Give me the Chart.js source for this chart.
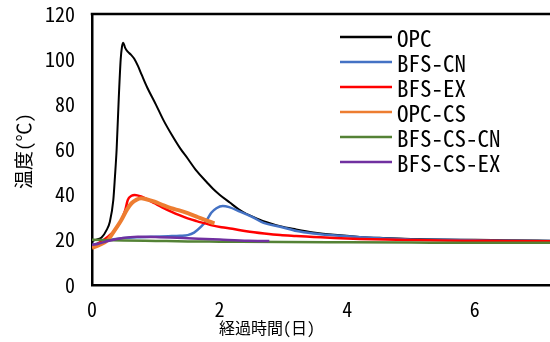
<!DOCTYPE html>
<html>
<head>
<meta charset="utf-8">
<script src="https://cdn.jsdelivr.net/npm/chart.js@4"></script>
<style>
html, body { margin: 0; padding: 0; background: #fff; }
</style>
</head>
<body>
<canvas id="chart" width="550" height="342"></canvas>
<script>
// series names and colours
var seriesNames = ['OPC', 'BFS-CN', 'BFS-EX', 'OPC-CS', 'BFS-CS-CN', 'BFS-CS-EX'];
var seriesColors = ['#000000', '#4472C4', '#FF0000', '#ED7D31', '#548235', '#7030A0'];
var seriesWidths = [2, 2.5, 2.5, 4, 2.5, 2.5];

// OPC
var opcDays = [0, 0.08, 0.15, 0.23, 0.28, 0.334, 0.36, 0.386, 0.42, 0.45, 0.47, 0.49, 0.52, 0.56, 0.61, 0.66, 0.72, 0.78, 0.86, 1.0, 1.12, 1.25, 1.38, 1.5, 1.64, 1.8, 1.9, 2.0, 2.16, 2.3, 2.42, 2.6, 2.74, 2.95, 3.2, 3.47, 3.8, 4.2, 4.6, 5.0, 5.5, 6.0, 6.5, 7.2];
var opcTemp = [19.5, 20.2, 21, 24.4, 28, 37.6, 48, 60, 83, 100, 105.5, 107.3, 105, 103.3, 102, 100.3, 97, 93, 87.8, 80, 73, 66.5, 60.6, 56, 50.5, 45.5, 42.5, 40, 36.5, 33.5, 31.5, 29.3, 27.8, 26, 24.6, 23.3, 22.2, 21.3, 20.8, 20.4, 20.1, 20, 19.8, 19.6];

// BFS-CN
var bfsCnDays = [0, 0.1, 0.25, 0.46, 0.7, 0.98, 1.2, 1.38, 1.5, 1.6, 1.71, 1.8, 1.87, 1.95, 2.05, 2.15, 2.32, 2.5, 2.69, 2.95, 3.21, 3.47, 3.73, 4.2, 4.6, 5.0, 5.5, 6.0, 6.5, 7.2];
var bfsCnTemp = [17.7, 18.5, 19.8, 20.7, 21.1, 21.4, 21.6, 21.8, 22.1, 23.2, 25.8, 28.8, 32, 34, 35, 34.5, 32.5, 30.3, 27.5, 25.8, 23.9, 22.8, 22.1, 21.2, 20.6, 20.2, 20, 19.8, 19.6, 19.5];

// BFS-EX
var bfsExDays = [0, 0.1, 0.25, 0.35, 0.46, 0.52, 0.56, 0.62, 0.67, 0.77, 0.88, 0.98, 1.1, 1.24, 1.38, 1.5, 1.64, 1.77, 1.9, 2.03, 2.2, 2.42, 2.7, 2.95, 3.2, 3.47, 3.8, 4.2, 4.6, 5.0, 5.5, 6.0, 6.5, 7.2];
var bfsExTemp = [17, 18.5, 21.4, 24, 28.8, 33, 37.6, 39.5, 39.9, 39.2, 37.7, 36.2, 34.4, 32.5, 30.8, 29.5, 28.3, 27.3, 26.3, 25.6, 24.9, 23.8, 22.8, 22.1, 21.7, 21.3, 20.8, 20.4, 20.1, 19.9, 19.7, 19.6, 19.5, 19.4];

// OPC-CS
var opcCsDays = [0, 0.1, 0.25, 0.35, 0.46, 0.55, 0.62, 0.7, 0.77, 0.85, 0.98, 1.1, 1.24, 1.38, 1.5, 1.64, 1.77, 1.92];
var opcCsTemp = [16.4, 17.5, 20, 24, 28.8, 33.5, 36.2, 37.8, 38.4, 38, 36.9, 35.5, 34, 32.9, 31.8, 30.3, 28.8, 27.3];

// BFS-CS-CN
var bfsCsCnDays = [0, 0.5, 1, 1.5, 2, 3, 4, 5, 6, 7.2];
var bfsCsCnTemp = [20, 19.7, 19.5, 19.3, 19.2, 19.0, 18.9, 18.8, 18.7, 18.7];

// BFS-CS-EX
var bfsCsExDays = [0, 0.1, 0.25, 0.46, 0.6, 0.72, 1.0, 1.5, 2.0, 2.45, 2.78];
var bfsCsExTemp = [17.7, 18.3, 19.5, 20.7, 21.2, 21.4, 21.3, 20.7, 20.1, 19.6, 19.5];

var seriesDays = [opcDays, bfsCnDays, bfsExDays, opcCsDays, bfsCsCnDays, bfsCsExDays];
var seriesTemp = [opcTemp, bfsCnTemp, bfsExTemp, opcCsTemp, bfsCsCnTemp, bfsCsExTemp];

// axes
var xTicks = [0, 2, 4, 6];
var xMax = 7.18;
var yTicks = [0, 20, 40, 60, 80, 100, 120];
var xTitle = '経過時間(日)';
var yTitle = '温度(℃)';

var monoFont = '"Noto Sans Mono CJK JP", "DejaVu Sans Mono", monospace';

var datasets = seriesNames.map(function(name, i) {
	return {
		label: name,
		data: seriesDays[i].map(function(d, j) {
			return {x: d, y: seriesTemp[i][j]};
		}),
		borderColor: seriesColors[i],
		backgroundColor: seriesColors[i],
		borderWidth: seriesWidths[i],
		pointRadius: 0,
		showLine: true,
		cubicInterpolationMode: 'monotone',
		order: -i
	};
});

var frame = {
	id: 'frame',
	afterDraw: function(chart) {
		var ctx = chart.ctx;
		var area = chart.chartArea;
		ctx.save();
		// top edge of the plot box
		ctx.strokeStyle = '#000';
		ctx.lineWidth = 2.5;
		ctx.beginPath();
		ctx.moveTo(area.left - 1.25, area.top);
		ctx.lineTo(chart.width, area.top);
		ctx.stroke();

		// legend
		ctx.font = '23px ' + monoFont;
		ctx.textBaseline = 'middle';
		ctx.textAlign = 'left';
		chart.data.datasets.forEach(function(ds, i) {
			var y = 37 + i * 25;
			ctx.strokeStyle = ds.borderColor;
			ctx.lineWidth = 2.5;
			ctx.beginPath();
			ctx.moveTo(340, y);
			ctx.lineTo(392, y);
			ctx.stroke();
			ctx.fillStyle = '#000';
			ctx.fillText(ds.label, 397, y + 1);
		});

		// axis titles
		ctx.fillStyle = '#000';
		ctx.font = '16px ' + monoFont;
		ctx.textAlign = 'center';
		ctx.fillText(xTitle, 267, 328);
		ctx.translate(24, 151);
		ctx.rotate(-Math.PI / 2);
		ctx.font = '19px ' + monoFont;
		ctx.fillText(yTitle, 0, 0);
		ctx.restore();
	}
};

new Chart(document.getElementById('chart'), {
	type: 'scatter',
	data: {datasets: datasets},
	options: {
		responsive: false,
		animation: false,
		layout: {padding: {top: 14, right: 0, left: 0, bottom: 0}},
		plugins: {legend: {display: false}, tooltip: {enabled: false}},
		scales: {
			x: {
				type: 'linear',
				min: 0,
				max: xMax,
				afterFit: function(scale) { scale.height = 57; },
				afterBuildTicks: function(scale) {
					scale.ticks = xTicks.map(function(v) { return {value: v}; });
				},
				grid: {drawOnChartArea: false, drawTicks: false},
				border: {color: '#000', width: 2.5},
				ticks: {color: '#000', font: {family: monoFont, size: 20}, padding: 12, maxRotation: 0}
			},
			y: {
				min: 0,
				max: 120,
				afterFit: function(scale) {
					scale.width = 92;
					scale.paddingTop = 12;
					scale.paddingBottom = 12;
				},
				afterBuildTicks: function(scale) {
					scale.ticks = yTicks.map(function(v) { return {value: v}; });
				},
				grid: {drawOnChartArea: false, drawTicks: false},
				border: {color: '#000', width: 2.5},
				ticks: {color: '#000', font: {family: monoFont, size: 20}, padding: 17}
			}
		}
	},
	plugins: [frame]
});
</script>
</body>
</html>
